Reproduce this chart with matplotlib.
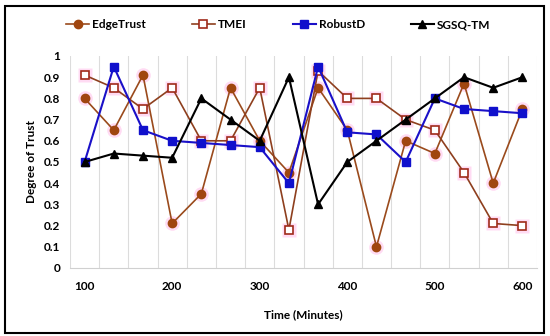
import numpy as np
import matplotlib
matplotlib.use("Agg")
import matplotlib.pyplot as plt
from matplotlib.patches import Rectangle

plt.rc("font", family=["Lato", "DejaVu Sans"], size=8.5, weight="bold")

times = [100, 133, 167, 200, 233, 267, 300, 333, 367, 400, 433, 467, 500, 533, 567, 600]
tick_labels = ["100", "200", "300", "400", "500", "600"]

edge_trust = [0.80, 0.65, 0.91, 0.21, 0.35, 0.85, 0.60, 0.45, 0.85, 0.65, 0.10, 0.60, 0.54, 0.87, 0.40, 0.75]
tmei = [0.91, 0.85, 0.75, 0.85, 0.60, 0.60, 0.85, 0.18, 0.93, 0.80, 0.80, 0.70, 0.65, 0.45, 0.21, 0.20]
robust_d = [0.50, 0.95, 0.65, 0.60, 0.59, 0.58, 0.57, 0.40, 0.95, 0.64, 0.63, 0.50, 0.80, 0.75, 0.74, 0.73]
sgsq_tm = [0.50, 0.54, 0.53, 0.52, 0.80, 0.70, 0.60, 0.90, 0.30, 0.50, 0.60, 0.70, 0.80, 0.90, 0.85, 0.90]

x = np.arange(len(times))

fig = plt.figure(figsize=(5.5, 3.36), dpi=100)
ax = fig.add_axes([70/550, 1-268/336, (537-70)/550, (268-56)/336])

# pink glow behind the brown series markers
glow = "#ffd2f0"
ax.plot(x, edge_trust, "o", ms=10.5, color=glow, alpha=0.8, mec="none", zorder=1)
ax.plot(x, tmei, "s", ms=10.5, color=glow, alpha=0.8, mec="none", zorder=1)

ax.plot(x, edge_trust, "-o", color="#9a4a1c", lw=1.2, ms=6, mfc="#a0460f", mec="#a0460f",
        label="EdgeTrust", zorder=3)
ax.plot(x, tmei, "-s", color="#8e3f1e", lw=1.2, ms=6, mfc="white", mec="#a02a1a", mew=1.2,
        label="TMEI", zorder=3)
ax.plot(x, robust_d, "-s", color="#1a10c8", lw=1.5, ms=6, mfc="#1010cc", mec="#1010cc",
        label="RobustD", zorder=4)
ax.plot(x, sgsq_tm, "-^", color="black", lw=1.5, ms=6, label="SGSQ-TM", zorder=4)

ax.set_xlim(-0.5, len(x) - 0.5)
ax.set_ylim(0, 1)
ax.set_xticks(x[::3])
ax.set_xticklabels(tick_labels)
ax.set_yticks(np.arange(0, 1.01, 0.1))
ax.set_yticklabels(["0", "0.1", "0.2", "0.3", "0.4", "0.5", "0.6", "0.7", "0.8", "0.9", "1"])
ax.set_xticks(np.arange(-0.5, len(x)), minor=True)
ax.grid(True, axis="x", which="minor", color="#dcdcdc", lw=0.8)
ax.tick_params(axis="both", which="both", length=0)
ax.tick_params(axis="x", pad=9)
ax.tick_params(axis="y", pad=7)
for s in ["top", "right", "left"]:
    ax.spines[s].set_visible(False)
ax.spines["bottom"].set_color("#d0d0d0")

ax.set_xlabel("Time (Minutes)", fontweight="bold", labelpad=13)
ax.set_ylabel("Degree of Trust", fontweight="bold", labelpad=5)

fig.legend(loc="center", bbox_to_anchor=(0.506, 0.9256), ncol=4, frameon=False,
           handlelength=1.95, columnspacing=3.9, handletextpad=0.25)

fig.patches.append(Rectangle((5/550, 3/336), 539/550, 327/336, transform=fig.transFigure,
                             fill=False, ec="black", lw=1.5))

plt.savefig("out.png", dpi=100)
